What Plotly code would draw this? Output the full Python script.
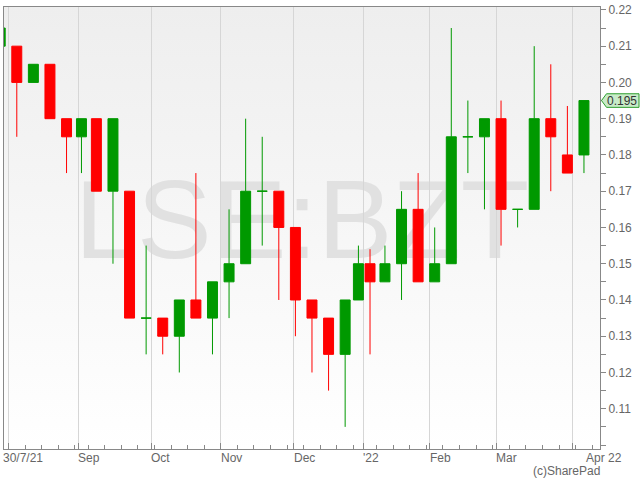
import base64
import numpy as np
import pandas as pd
import plotly.graph_objects as go

# ---------------- data ----------------
WEEKS = ["2021-07-26", "2021-08-02", "2021-08-09", "2021-08-16", "2021-08-23", "2021-08-30",
         "2021-09-06", "2021-09-13", "2021-09-20", "2021-09-27", "2021-10-04", "2021-10-11",
         "2021-10-18", "2021-10-25", "2021-11-01", "2021-11-08", "2021-11-15", "2021-11-22",
         "2021-11-29", "2021-12-06", "2021-12-13", "2021-12-20", "2021-12-27", "2022-01-03",
         "2022-01-10", "2022-01-17", "2022-01-24", "2022-01-31", "2022-02-07", "2022-02-14",
         "2022-02-21", "2022-02-28", "2022-03-07", "2022-03-14", "2022-03-21", "2022-03-28",
         "2022-04-04"]
OPEN = [0.21, 0.21, 0.20, 0.205, 0.19, 0.185, 0.19, 0.17, 0.17, 0.135, 0.135, 0.13,
        0.14, 0.135, 0.145, 0.15, 0.17, 0.17, 0.16, 0.14, 0.135, 0.125, 0.14, 0.15,
        0.145, 0.15, 0.165, 0.145, 0.15, 0.185, 0.185, 0.19, 0.165, 0.165, 0.19, 0.18, 0.18]
HIGH = [0.215, 0.21, 0.205, 0.205, 0.19, 0.19, 0.19, 0.19, 0.17, 0.155, 0.135, 0.14,
        0.175, 0.145, 0.165, 0.19, 0.185, 0.17, 0.16, 0.14, 0.135, 0.14, 0.155, 0.154,
        0.155, 0.17, 0.175, 0.16, 0.215, 0.195, 0.19, 0.195, 0.165, 0.21, 0.205, 0.1935, 0.195]
LOW = [0.21, 0.185, 0.20, 0.19, 0.175, 0.175, 0.17, 0.15, 0.135, 0.125, 0.125, 0.12,
       0.135, 0.125, 0.135, 0.15, 0.155, 0.14, 0.13, 0.12, 0.115, 0.105, 0.14, 0.125,
       0.145, 0.14, 0.145, 0.145, 0.15, 0.175, 0.165, 0.155, 0.16, 0.165, 0.17, 0.175, 0.175]
CLOSE = [0.215, 0.20, 0.205, 0.19, 0.185, 0.19, 0.17, 0.19, 0.135, 0.135, 0.13, 0.14,
         0.135, 0.145, 0.15, 0.17, 0.17, 0.16, 0.14, 0.135, 0.125, 0.14, 0.15, 0.145,
         0.15, 0.165, 0.145, 0.15, 0.185, 0.185, 0.19, 0.165, 0.165, 0.19, 0.185, 0.175, 0.195]
HOLIDAYS = ["2021-08-30", "2021-12-27", "2021-12-28", "2022-01-03"]
MONTH_TICKS = ["2021-08-02", "2021-09-01", "2021-10-01", "2021-11-01", "2021-12-01",
               "2022-01-04", "2022-02-01", "2022-03-01", "2022-04-01"]
MONTH_LABELS = ["30/7/21", "Sep", "Oct", "Nov", "Dec", "'22", "Feb", "Mar", "Apr 22"]
Y_LABEL_TICKS = [0.11, 0.12, 0.13, 0.14, 0.15, 0.16, 0.17, 0.18, 0.19, 0.20, 0.21, 0.22]
GRID_Y = [0.12, 0.14, 0.16, 0.18, 0.20]
LAST_PRICE = 0.195
WATERMARK = "LSE:BZT"
CREDIT = "(c)SharePad"
X_RANGE = ["2021-07-29 15:30", "2022-04-13 08:05"]
Y_RANGE = [0.0989, 0.2208]

GREEN = "#009900"
RED = "#ff0000"
AXIS = "#888888"
GRID = "#d6d6d6"
TXT = "#666666"
FONT = "Liberation Sans, Arial, sans-serif"

# ---------------- candle positions (centre of each week's trading days) ----------------
hol = set(pd.to_datetime(HOLIDAYS))


def trading_days(monday):
    m = pd.Timestamp(monday)
    return [m + pd.Timedelta(days=i) for i in range(5) if (m + pd.Timedelta(days=i)) not in hol]


x_centres = []
week_starts = []
for w in WEEKS:
    days = trading_days(w)
    first = days[0] + pd.Timedelta(hours=12)
    last = days[-1] + pd.Timedelta(hours=12)
    x_centres.append((first + (last - first) / 2).strftime("%Y-%m-%d %H:%M:%S"))
    week_starts.append(days[0].strftime("%Y-%m-%d"))
week_starts.append(trading_days(pd.Timestamp(WEEKS[-1]) + pd.Timedelta(days=7))[0].strftime("%Y-%m-%d"))

o = np.array(OPEN)
c = np.array(CLOSE)
doji = np.isclose(o, c)


def sel(arr, mask):
    return [a for a, m in zip(arr, mask) if m]


fig = go.Figure()
for mask, inc_col, dec_col in [(~doji, GREEN, RED), (doji, GREEN, GREEN)]:
    fig.add_trace(go.Candlestick(
        x=sel(x_centres, mask), open=sel(OPEN, mask), high=sel(HIGH, mask),
        low=sel(LOW, mask), close=sel(CLOSE, mask),
        increasing=dict(line=dict(color=inc_col, width=1), fillcolor=inc_col),
        decreasing=dict(line=dict(color=dec_col, width=1), fillcolor=dec_col),
        whiskerwidth=0, showlegend=False, hoverinfo="skip",
    ))

# background gradient
svg = ('<svg xmlns="http://www.w3.org/2000/svg" width="100" height="100" preserveAspectRatio="none">'
       '<defs><linearGradient id="g" x1="0" y1="0" x2="0" y2="1">'
       '<stop offset="0" stop-color="#eeeeee"/><stop offset="1" stop-color="#ffffff"/>'
       '</linearGradient></defs><rect width="100" height="100" fill="url(#g)"/></svg>')
bg_uri = "data:image/svg+xml;base64," + base64.b64encode(svg.encode()).decode()

annotations = []
for d, lab in zip(MONTH_TICKS[:-1], MONTH_LABELS[:-1]):
    annotations.append(dict(x=d, xref="x", y=0, yref="paper", xanchor="left", yanchor="middle",
                            xshift=-7 if lab == MONTH_LABELS[0] else -2, yshift=-8.5,
                            text=lab, showarrow=False, font=dict(size=12, color=TXT, family=FONT)))
annotations.append(dict(x=1, xref="paper", y=0, yref="paper", xanchor="right", yanchor="middle",
                        xshift=24, yshift=-8.5, text=MONTH_LABELS[-1], showarrow=False,
                        font=dict(size=12, color=TXT, family=FONT)))
annotations.append(dict(x=1, xref="paper", y=0, yref="paper", xanchor="right", yanchor="middle",
                        xshift=2, yshift=-22, text=CREDIT, showarrow=False,
                        font=dict(size=12, color=TXT, family=FONT)))
annotations.append(dict(x=1, xref="paper", y=LAST_PRICE, yref="y", xanchor="left", yanchor="middle",
                        xshift=5, text=f"{LAST_PRICE:.3f}", showarrow=False,
                        font=dict(size=12, color="#333333", family=FONT)))

shapes = [
    dict(type="rect", xref="paper", yref="paper", x0=0, x1=1, y0=0.044, y1=1.044,
         line=dict(width=0), fillcolor="rgba(0,0,0,0)", layer="below",
         label=dict(text=WATERMARK, textposition="middle center",
                    font=dict(size=112, color="#e1e1e1", family=FONT))),
    dict(type="path", xref="paper", yref="y", xsizemode="pixel", ysizemode="pixel",
         xanchor=1, yanchor=LAST_PRICE,
         path="M 1.5 0 L 6.5 6.8 L 39 6.8 L 39 -6.8 L 6.5 -6.8 Z",
         line=dict(color="#2e9e2e", width=1), fillcolor="#c8ebc8", layer="above"),
]

fig.update_layout(
    width=640, height=480,
    margin=dict(l=3, r=40, t=3, b=31),
    paper_bgcolor="white", plot_bgcolor="rgba(0,0,0,0)",
    showlegend=False, hovermode=False,
    boxgap=0.339, boxgroupgap=0.3,
    font=dict(family=FONT, size=12, color=TXT),
    images=[dict(source=bg_uri, xref="paper", yref="paper", x=0, y=1, sizex=1, sizey=1,
                 sizing="stretch", xanchor="left", yanchor="top", layer="below")],
    shapes=shapes,
    annotations=annotations,
    xaxis=dict(
        type="date", range=X_RANGE,
        rangebreaks=[dict(bounds=["sat", "mon"]), dict(values=HOLIDAYS)],
        rangeslider=dict(visible=False),
        tickmode="array", tickvals=MONTH_TICKS, showticklabels=False,
        ticks="inside", ticklen=6, tickcolor=AXIS, tickwidth=1,
        showgrid=True, gridcolor=GRID, gridwidth=1,
        showline=True, mirror=True, linecolor=AXIS, linewidth=1, zeroline=False,
        minor=dict(tickmode="array", tickvals=week_starts, ticks="inside", ticklen=4,
                   tickcolor=AXIS, showgrid=False),
    ),
    yaxis=dict(
        side="right", range=Y_RANGE,
        tickmode="array", tickvals=Y_LABEL_TICKS, ticktext=[f"{v:.2f}" for v in Y_LABEL_TICKS],
        ticks="outside", ticklen=5, tickcolor=AXIS, ticklabeloverflow="allow",
        tickfont=dict(size=12, color=TXT, family=FONT),
        showgrid=False, zeroline=False,
        showline=True, mirror=True, linecolor=AXIS, linewidth=1,
        minor=dict(tickmode="linear", tick0=0, dtick=0.005, ticks="outside", ticklen=5,
                   tickcolor=AXIS, showgrid=False),
    ),
    yaxis2=dict(
        overlaying="y", side="right", range=Y_RANGE,
        tickmode="array", tickvals=GRID_Y, showticklabels=False, ticks="",
        showgrid=True, gridcolor=GRID, gridwidth=1, showline=False, zeroline=False,
    ),
)

fig.write_html("out.html", config={"displayModeBar": False, "staticPlot": True},
               post_script="document.body.style.margin='0';document.body.style.overflow='hidden';")
